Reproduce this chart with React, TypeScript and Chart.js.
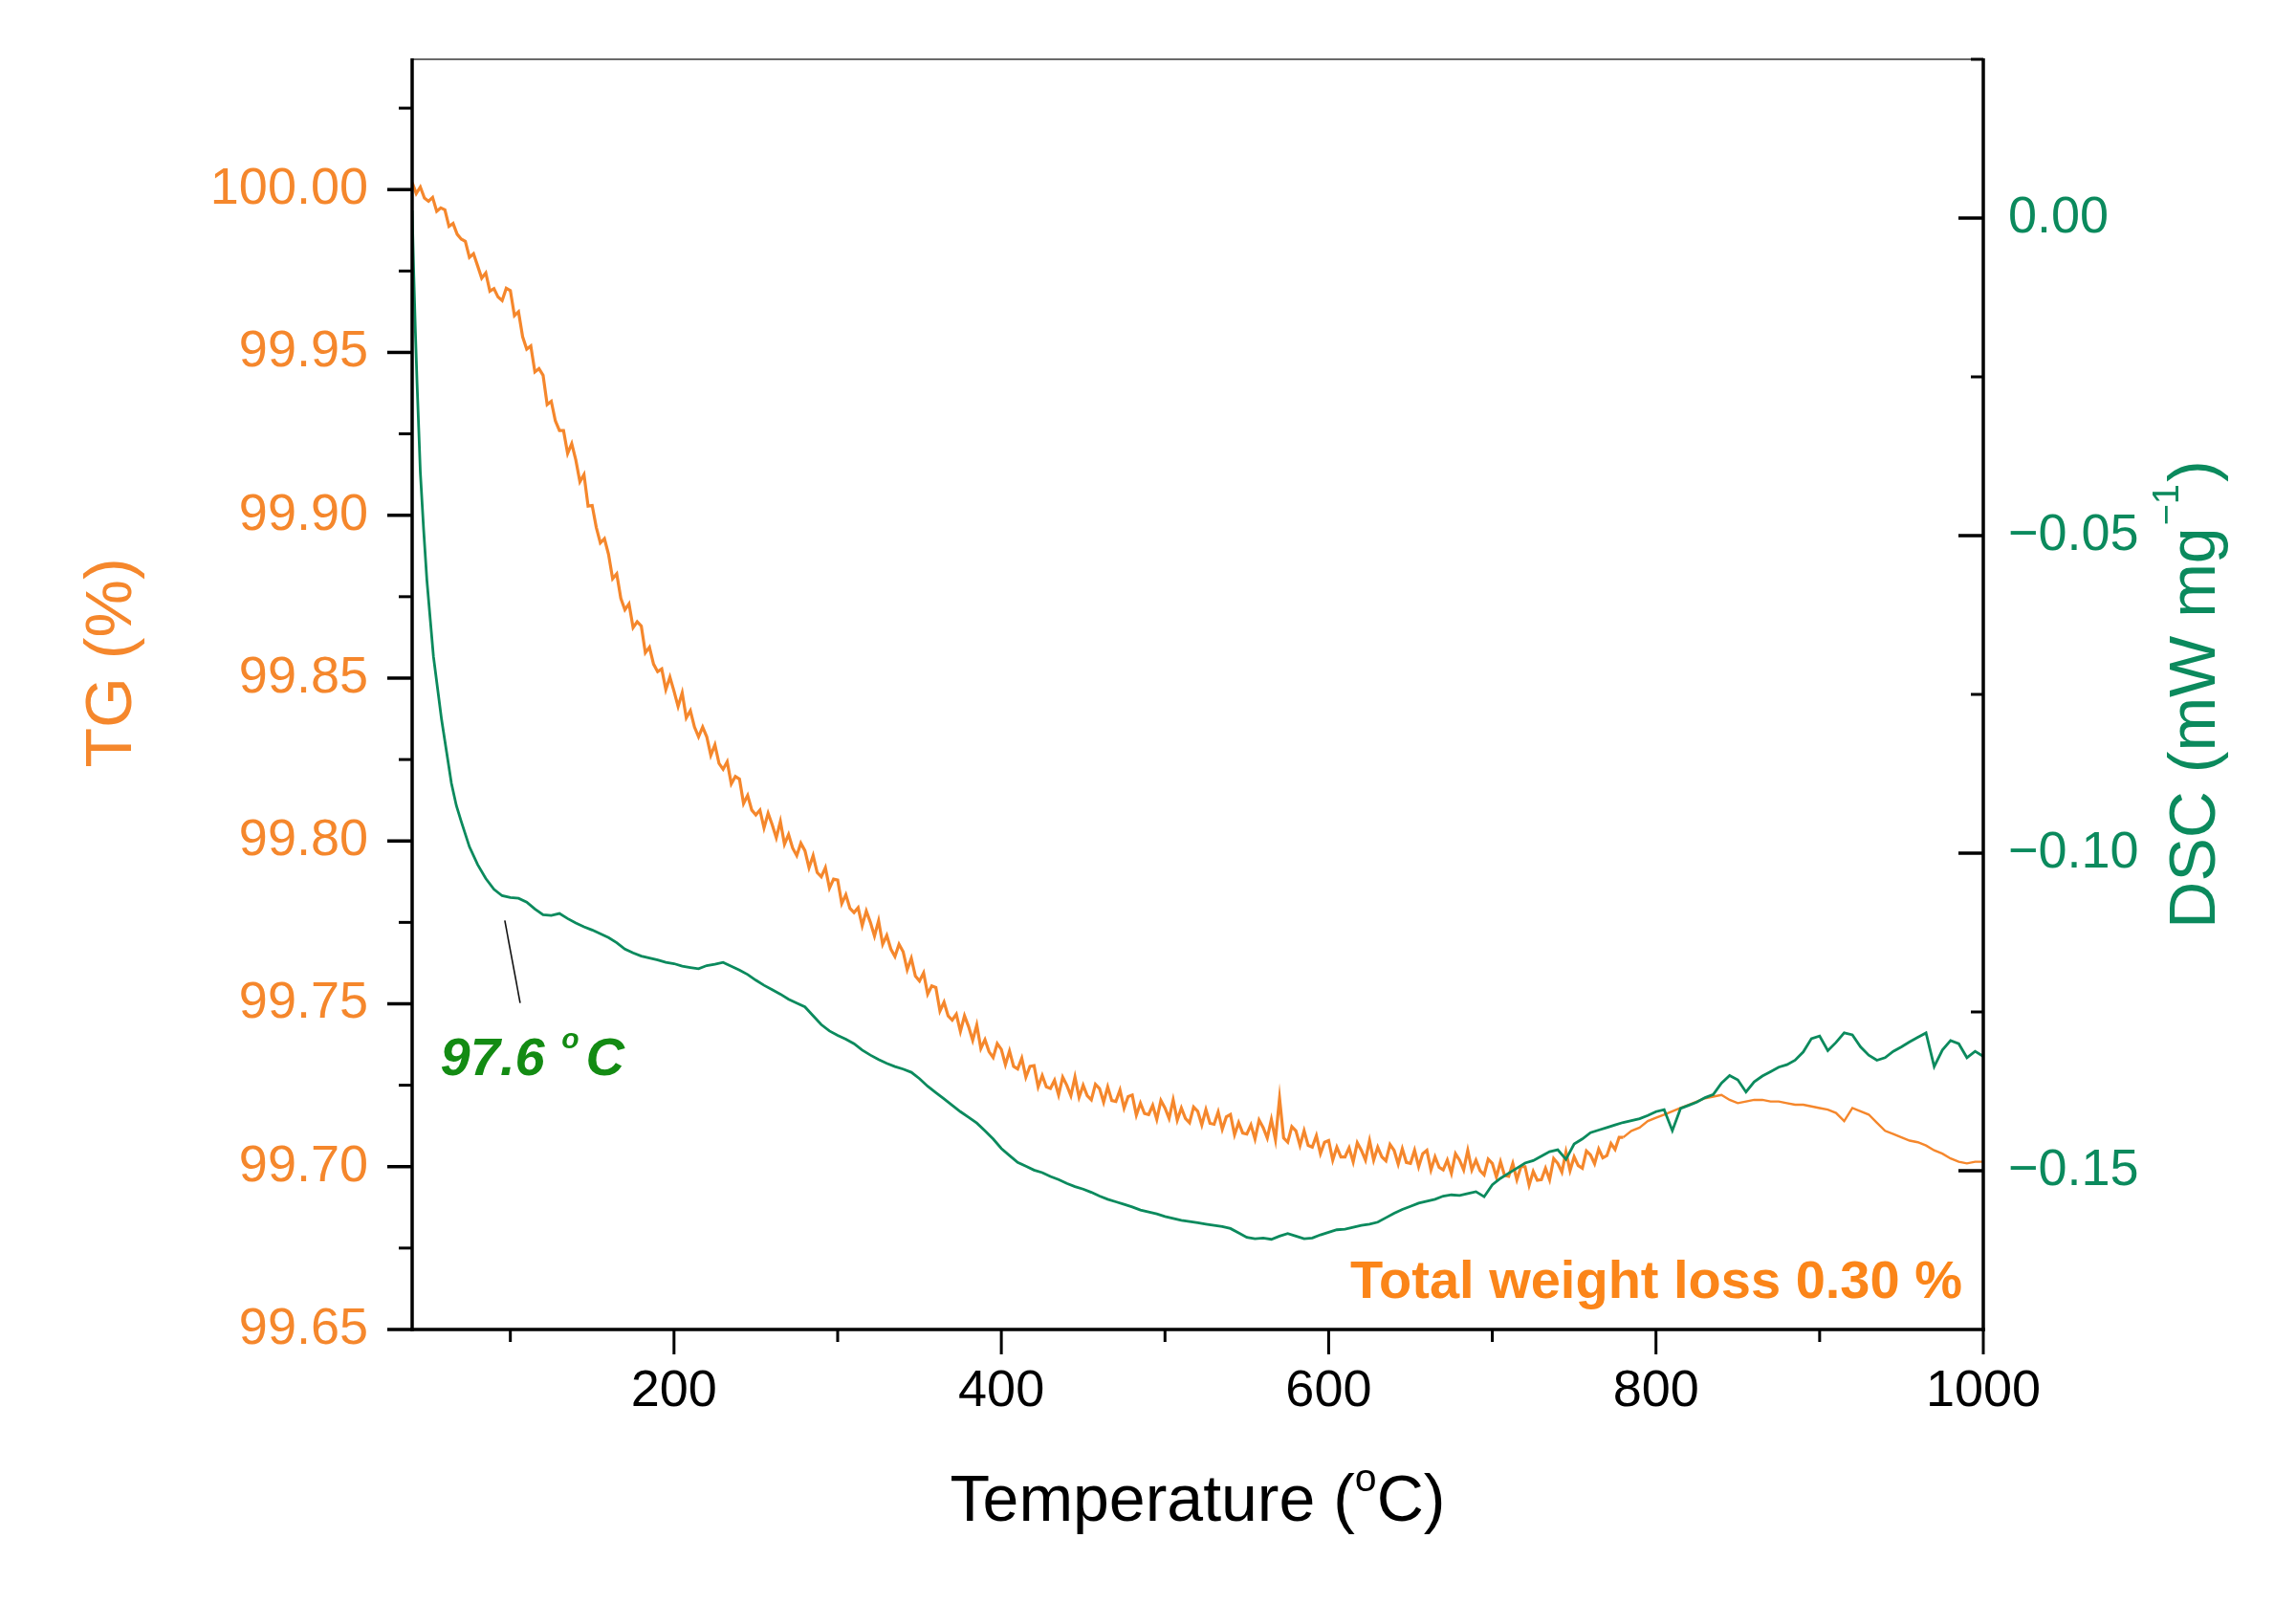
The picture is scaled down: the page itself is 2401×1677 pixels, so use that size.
import React, { useEffect, useRef } from "react";
import { Chart, registerables } from "chart.js";

Chart.register(...registerables);

// ---------- data ----------
const tgTemperature = [
  40, 42.5, 45, 47.5, 50, 52.5, 55, 57.5, 60, 62.5, 65, 67.5, 70, 72.5, 75, 77.5,
  80, 82.5, 85, 87.5, 90, 92.5, 95, 97.5, 100, 102.5, 105, 107.5, 110, 112.5, 115, 117.5,
  120, 122.5, 125, 127.5, 130, 132.5, 135, 137.5, 140, 142.5, 145, 147.5, 150, 152.5, 155, 157.5,
  160, 162.5, 165, 167.5, 170, 172.5, 175, 177.5, 180, 182.5, 185, 187.5, 190, 192.5, 195, 197.5,
  200, 202.5, 205, 207.5, 210, 212.5, 215, 217.5, 220, 222.5, 225, 227.5, 230, 232.5, 235, 237.5,
  240, 242.5, 245, 247.5, 250, 252.5, 255, 257.5, 260, 262.5, 265, 267.5, 270, 272.5, 275, 277.5,
  280, 282.5, 285, 287.5, 290, 292.5, 295, 297.5, 300, 302.5, 305, 307.5, 310, 312.5, 315, 317.5,
  320, 322.5, 325, 327.5, 330, 332.5, 335, 337.5, 340, 342.5, 345, 347.5, 350, 352.5, 355, 357.5,
  360, 362.5, 365, 367.5, 370, 372.5, 375, 377.5, 380, 382.5, 385, 387.5, 390, 392.5, 395, 397.5,
  400, 402.5, 405, 407.5, 410, 412.5, 415, 417.5, 420, 422.5, 425, 427.5, 430, 432.5, 435, 437.5,
  440, 442.5, 445, 447.5, 450, 452.5, 455, 457.5, 460, 462.5, 465, 467.5, 470, 472.5, 475, 477.5,
  480, 482.5, 485, 487.5, 490, 492.5, 495, 497.5, 500, 502.5, 505, 507.5, 510, 512.5, 515, 517.5,
  520, 522.5, 525, 527.5, 530, 532.5, 535, 537.5, 540, 542.5, 545, 547.5, 550, 552.5, 555, 557.5,
  560, 562.5, 565, 567.5, 570, 572.5, 575, 577.5, 580, 582.5, 585, 587.5, 590, 592.5, 595, 597.5,
  600, 602.5, 605, 607.5, 610, 612.5, 615, 617.5, 620, 622.5, 625, 627.5, 630, 632.5, 635, 637.5,
  640, 642.5, 645, 647.5, 650, 652.5, 655, 657.5, 660, 662.5, 665, 667.5, 670, 672.5, 675, 677.5,
  680, 682.5, 685, 687.5, 690, 692.5, 695, 697.5, 700, 702.5, 705, 707.5, 710, 712.5, 715, 717.5,
  720, 722.5, 725, 727.5, 730, 732.5, 735, 737.5, 740, 742.5, 745, 747.5, 750, 752.5, 755, 757.5,
  760, 762.5, 765, 767.5, 770, 772.5, 775, 777.5,
  780, 785, 790, 795, 800, 805, 810, 815, 820, 825,
  830, 835, 840, 845, 850, 855, 860, 865, 870, 875,
  880, 885, 890, 895, 900, 905, 910, 915, 920, 925,
  930, 935, 940, 945, 950, 955, 960, 965, 970, 975,
  980, 985, 990, 995, 1000,
];

const tgValues = [
  100.0022, 99.9988, 100.0008, 99.9974, 99.9964, 99.9976, 99.9933, 99.9944,
  99.9938, 99.9887, 99.9896, 99.9863, 99.9848, 99.9841, 99.9792, 99.9803,
  99.9766, 99.9728, 99.9744, 99.9688, 99.9696, 99.967, 99.9659, 99.9697,
  99.969, 99.9613, 99.9625, 99.9548, 99.951, 99.952, 99.944, 99.945,
  99.943, 99.934, 99.935, 99.929, 99.926, 99.926, 99.919, 99.922,
  99.917, 99.9103, 99.9125, 99.9028, 99.903, 99.8963, 99.8915, 99.8928,
  99.888, 99.8805, 99.882, 99.8745, 99.871, 99.8728, 99.8655, 99.8673,
  99.866, 99.8578, 99.8595, 99.8543, 99.852, 99.8528, 99.8465, 99.8503,
  99.846, 99.8413, 99.8455, 99.8378, 99.84, 99.835, 99.832, 99.835,
  99.832, 99.8263, 99.8295, 99.8238, 99.822, 99.8243, 99.8175, 99.8198,
  99.819, 99.8115, 99.814, 99.8095, 99.808, 99.8095, 99.804, 99.8085,
  99.805, 99.801, 99.806, 99.799, 99.802, 99.7978, 99.7955, 99.7993,
  99.797, 99.7918, 99.7955, 99.7903, 99.789, 99.7918, 99.7855, 99.7883,
  99.788, 99.7808, 99.7835, 99.7793, 99.778, 99.7795, 99.774, 99.7785,
  99.775, 99.7708, 99.7755, 99.7683, 99.771, 99.7668, 99.7645, 99.7683,
  99.766, 99.7605, 99.764, 99.7585, 99.757, 99.7595, 99.753, 99.7555,
  99.755, 99.7478, 99.7505, 99.7463, 99.745, 99.7468, 99.7415, 99.7463,
  99.743, 99.7388, 99.7435, 99.7363, 99.739, 99.7353, 99.7335, 99.7378,
  99.736, 99.7313, 99.7355, 99.7308, 99.73, 99.7333, 99.7275, 99.7308,
  99.731, 99.7245, 99.728, 99.7245, 99.724, 99.7265, 99.722, 99.7275,
  99.725, 99.7218, 99.7275, 99.7213, 99.725, 99.7218, 99.7205, 99.7253,
  99.724, 99.7198, 99.7245, 99.7203, 99.72, 99.7235, 99.718, 99.7215,
  99.722, 99.7158, 99.7195, 99.7163, 99.716, 99.7188, 99.7145, 99.7203,
  99.718, 99.7148, 99.7205, 99.7143, 99.718, 99.7148, 99.7135, 99.7183,
  99.717, 99.7128, 99.7175, 99.7133, 99.713, 99.7168, 99.7115, 99.7153,
  99.716, 99.7098, 99.7135, 99.7103, 99.71, 99.7128, 99.7085, 99.7143,
  99.712, 99.7088, 99.7145, 99.7083, 99.721, 99.7088, 99.7075, 99.7123,
  99.711, 99.7065, 99.711, 99.7065, 99.706, 99.7095, 99.704, 99.7075,
  99.708, 99.702, 99.706, 99.703, 99.703, 99.7058, 99.7015, 99.7073,
  99.705, 99.702, 99.708, 99.702, 99.706, 99.703, 99.7018, 99.7068,
  99.705, 99.7008, 99.7055, 99.7013, 99.701, 99.705, 99.7, 99.704,
  99.705, 99.699, 99.703, 99.6998, 99.699, 99.702, 99.698, 99.704,
  99.702, 99.699, 99.705, 99.699, 99.702, 99.6988, 99.6975, 99.7023,
  99.701, 99.6968, 99.7015, 99.6973, 99.697, 99.701, 99.696, 99.7,
  99.7, 99.6943, 99.6985, 99.6958, 99.696, 99.6995, 99.696, 99.7025,
  99.701, 99.6983, 99.7045, 99.6988, 99.703, 99.7003, 99.6995, 99.7048,
  99.7036, 99.7009, 99.7054, 99.7027, 99.7034, 99.7071, 99.7053, 99.709,
  99.709, 99.711, 99.712, 99.714, 99.715, 99.716, 99.717, 99.718, 99.719, 99.72,
  99.721, 99.7215, 99.722, 99.7205, 99.7195, 99.72, 99.7205, 99.7205, 99.72, 99.72,
  99.7195, 99.719, 99.719, 99.7185, 99.718, 99.7175, 99.7165, 99.714, 99.718, 99.717,
  99.716, 99.7135, 99.711, 99.71, 99.709, 99.708, 99.7075, 99.7065, 99.705, 99.704,
  99.7025, 99.7015, 99.701, 99.7015, 99.7015,
];

const dscTemperature = [
  40, 41, 42, 43, 44, 45, 47, 49, 51, 53,
  55, 58, 61, 64, 67, 70, 75, 80, 85, 90,
  95, 100,
  105, 110, 115, 120, 125, 130, 135, 140, 145, 150,
  155, 160, 165, 170, 175, 180, 185, 190, 195, 200,
  205, 210, 215, 220, 225, 230, 235, 240, 245, 250,
  255, 260, 265, 270, 275, 280, 285, 290, 295, 300,
  305, 310, 315, 320, 325, 330, 335, 340, 345, 350,
  355, 360, 365, 370, 375, 380, 385, 390, 395, 400,
  405, 410, 415, 420, 425, 430, 435, 440, 445, 450,
  455, 460, 465, 470, 475, 480, 485, 490, 495, 500,
  505, 510, 515, 520, 525, 530, 535, 540, 545, 550,
  555, 560, 565, 570, 575, 580, 585, 590, 595, 600,
  605, 610, 615, 620, 625, 630, 635, 640, 645, 650,
  655, 660, 665, 670, 675, 680, 685, 690, 695, 700,
  705, 710, 715, 720, 725, 730, 735, 740, 745, 750,
  755, 760, 765, 770, 775, 780, 785, 790, 795, 800,
  805, 810, 815, 820, 825, 830, 835, 840, 845, 850,
  855, 860, 865, 870, 875, 880, 885, 890, 895, 900,
  905, 910, 915, 920, 925, 930, 935, 940, 945, 950,
  955, 960, 965, 970, 975, 980, 985, 990, 995, 1000,
];

const dscValues = [
  0.0012, -0.009, -0.018, -0.026, -0.033, -0.04, -0.049, -0.057, -0.063, -0.069,
  -0.073, -0.079, -0.084, -0.089, -0.0925, -0.095, -0.099, -0.1018, -0.104, -0.1057,
  -0.1067, -0.107,
  -0.1071, -0.1077, -0.1088, -0.1097, -0.1098, -0.1095, -0.1103, -0.111, -0.1116, -0.1121,
  -0.1127, -0.1133, -0.1141, -0.1151, -0.1157, -0.1162, -0.1165, -0.1168, -0.1172, -0.1174,
  -0.1178, -0.118, -0.1182, -0.1177, -0.1175, -0.1172, -0.1178, -0.1184, -0.1191, -0.12,
  -0.1208, -0.1215, -0.1222, -0.123, -0.1236, -0.1242, -0.1256, -0.127, -0.128, -0.1287,
  -0.1293, -0.13, -0.131, -0.1318, -0.1325, -0.1331, -0.1336, -0.134, -0.1345, -0.1355,
  -0.1367, -0.1377, -0.1387, -0.1397, -0.1407, -0.1416, -0.1425, -0.1437, -0.145, -0.1465,
  -0.1476, -0.1487, -0.1493, -0.1499, -0.1503, -0.1509, -0.1514, -0.152, -0.1525, -0.1529,
  -0.1534, -0.154, -0.1545, -0.1549, -0.1553, -0.1557, -0.1562, -0.1565, -0.1568, -0.1572,
  -0.1575, -0.1578, -0.158, -0.1582, -0.1584, -0.1586, -0.1588, -0.1591, -0.1598, -0.1605,
  -0.1607, -0.1606, -0.1608, -0.1603, -0.1599, -0.1603, -0.1607, -0.1606, -0.1601, -0.1597,
  -0.1593, -0.1592, -0.1589, -0.1586, -0.1584, -0.1581, -0.1574, -0.1567, -0.1561, -0.1556,
  -0.1551, -0.1548, -0.1545, -0.154, -0.1538, -0.1539, -0.1536, -0.1533, -0.1541, -0.1522,
  -0.1512, -0.1504, -0.1496, -0.1488, -0.1484, -0.1477, -0.147, -0.1467, -0.1482, -0.1458,
  -0.145, -0.144, -0.1436, -0.1432, -0.1428, -0.1424, -0.1421, -0.1418, -0.1413, -0.1407,
  -0.1404, -0.1437, -0.1402, -0.1397, -0.1392, -0.1385, -0.138, -0.1362, -0.135, -0.1357,
  -0.1376, -0.136, -0.1351, -0.1344, -0.1337, -0.1333, -0.1326, -0.1313, -0.1292, -0.1288,
  -0.1311, -0.1298, -0.1283, -0.1286, -0.1305, -0.1318, -0.1326, -0.1322, -0.1312, -0.1305,
  -0.1297, -0.129, -0.1283, -0.1336, -0.131, -0.1295, -0.13, -0.1322, -0.1312, -0.132,
];

const temperatureTicks = [200, 400, 600, 800, 1000];
const temperatureMinorTicks = [100, 300, 500, 700, 900];
const tgTicks = [99.65, 99.7, 99.75, 99.8, 99.85, 99.9, 99.95, 100.0];
const tgMinorTicks = [99.675, 99.725, 99.775, 99.825, 99.875, 99.925, 99.975, 100.025];
const dscTicks = [-0.15, -0.1, -0.05, 0.0];
const dscMinorTicks = [-0.125, -0.075, -0.025, 0.025];

// annotation anchors (data units: temperature, DSC)
const peakPointer = [
  { t: 96.6, dsc: -0.1106 },
  { t: 106, dsc: -0.1236 },
];
const peakLabelAnchor = { t: 57.3, dsc: -0.135 };

// the TG signal is noisy (drawn slightly heavier) below this temperature
const tgNoisyUntil = 780;

// ---------- styles ----------
const ORANGE = "#F5872C";
const ORANGE_TEXT = "#FB8519";
const GREEN = "#0B8A5D";
const LABEL_GREEN = "#138B13";
const FONT = '"Liberation Sans", Arial, Helvetica, sans-serif';

const W = 2401;
const H = 1677;
const AREA_LEFT = 431;
const AREA_RIGHT = 2074;
const AREA_TOP = 62;
const AREA_BOTTOM = 1390;

function fmtDsc(v: number): string {
  if (Math.abs(v) < 1e-9) return "0.00";
  const s = v.toFixed(2);
  return s.replace("-", "\u2212");
}

function zeroPad(s: any) {
  s.paddingTop = 0;
  s.paddingBottom = 0;
  s.paddingLeft = 0;
  s.paddingRight = 0;
}

const decorPlugin = {
  id: "decor",
  afterDatasetsDraw(chart: any) {
    const { ctx, chartArea, scales } = chart;
    const { left, right, top, bottom } = chartArea;
    const x = scales.x;
    const y = scales.y;
    const y1 = scales.y1;
    ctx.save();

    const line = (x1: number, yy1: number, x2: number, yy2: number) => {
      ctx.beginPath();
      ctx.moveTo(x1, yy1);
      ctx.lineTo(x2, yy2);
      ctx.stroke();
    };

    // top frame (thin grey)
    ctx.strokeStyle = "#6a6a6a";
    ctx.lineWidth = 2;
    line(left, top, right, top);

    // axes
    ctx.strokeStyle = "#000";
    ctx.lineWidth = 3.5;
    line(left, top - 1, left, bottom + 1.75);
    line(left - 1.75, bottom, right + 1.75, bottom);
    line(right, top - 1, right, bottom + 1.75);

    // left ticks (outward)
    ctx.lineWidth = 3.5;
    tgTicks.forEach((v) => {
      const p = y.getPixelForValue(v);
      line(left - 26, p, left, p);
    });
    ctx.lineWidth = 3;
    tgMinorTicks.forEach((v) => {
      const p = y.getPixelForValue(v);
      line(left - 14, p, left, p);
    });

    // right ticks (inward)
    ctx.lineWidth = 3.5;
    dscTicks.forEach((v) => {
      const p = y1.getPixelForValue(v);
      line(right - 26, p, right, p);
    });
    ctx.lineWidth = 3;
    dscMinorTicks.forEach((v) => {
      const p = y1.getPixelForValue(v);
      line(right - 13, p, right, p);
    });

    // bottom ticks (outward)
    ctx.lineWidth = 3;
    temperatureTicks.forEach((v) => {
      const p = x.getPixelForValue(v);
      line(p, bottom, p, bottom + 26);
    });
    temperatureMinorTicks.forEach((v) => {
      const p = x.getPixelForValue(v);
      line(p, bottom, p, bottom + 13);
    });

    // peak pointer
    ctx.strokeStyle = "#111";
    ctx.lineWidth = 1.6;
    line(
      x.getPixelForValue(peakPointer[0].t),
      y1.getPixelForValue(peakPointer[0].dsc),
      x.getPixelForValue(peakPointer[1].t),
      y1.getPixelForValue(peakPointer[1].dsc)
    );

    // peak label "97.6 °C"
    const lx = x.getPixelForValue(peakLabelAnchor.t);
    const ly = y1.getPixelForValue(peakLabelAnchor.dsc);
    ctx.fillStyle = LABEL_GREEN;
    ctx.textAlign = "left";
    ctx.textBaseline = "alphabetic";
    ctx.font = `italic bold 56px ${FONT}`;
    const part1 = "97.6 ";
    ctx.fillText(part1, lx, ly);
    let cx = lx + ctx.measureText(part1).width + 2;
    ctx.font = `italic bold 30px ${FONT}`;
    ctx.fillText("o", cx, ly - 28);
    cx += ctx.measureText("o").width + 7;
    ctx.font = `italic bold 56px ${FONT}`;
    ctx.fillText("C", cx, ly);

    // total weight loss
    ctx.fillStyle = ORANGE_TEXT;
    ctx.font = `bold 56px ${FONT}`;
    ctx.textAlign = "right";
    ctx.fillText("Total weight loss 0.30 %", right - 22, bottom - 33);

    ctx.restore();
  },
  afterDraw(chart: any) {
    const { ctx, chartArea } = chart;
    const { left, right, top, bottom } = chartArea;
    ctx.save();
    ctx.textBaseline = "alphabetic";

    // x title: Temperature (°C)
    ctx.fillStyle = "#000";
    const big = `68px ${FONT}`;
    const small = `41px ${FONT}`;
    ctx.font = big;
    const a = "Temperature (";
    const c = "C)";
    const wa = ctx.measureText(a).width;
    const wc = ctx.measureText(c).width;
    ctx.font = small;
    const wo = ctx.measureText("o").width;
    const total = wa + wo + wc;
    const cxMid = (left + right) / 2;
    const base = 1590;
    let px = cxMid - total / 2;
    ctx.textAlign = "left";
    ctx.font = big;
    ctx.fillText(a, px, base);
    px += wa;
    ctx.font = small;
    ctx.fillText("o", px, base - 31);
    px += wo;
    ctx.font = big;
    ctx.fillText(c, px, base);

    // left title TG (%)
    ctx.save();
    ctx.translate(137, 693);
    ctx.rotate(-Math.PI / 2);
    ctx.fillStyle = ORANGE;
    ctx.font = big;
    ctx.textAlign = "center";
    ctx.fillText("TG (%)", 0, 0);
    ctx.restore();

    // right title DSC (mW mg−1)
    ctx.save();
    ctx.translate(2316, (top + bottom) / 2);
    ctx.rotate(-Math.PI / 2);
    ctx.fillStyle = GREEN;
    ctx.textAlign = "left";
    const r1 = "DSC (mW mg";
    const sup = "\u22121";
    const r3 = ")";
    ctx.font = big;
    const w1 = ctx.measureText(r1).width;
    const w3 = ctx.measureText(r3).width;
    ctx.font = `38px ${FONT}`;
    const w2 = ctx.measureText(sup).width;
    let rx = -(w1 + w2 + w3 + 4) / 2;
    ctx.font = big;
    ctx.fillText(r1, rx, 0);
    rx += w1 + 2;
    ctx.font = `38px ${FONT}`;
    ctx.fillText(sup, rx, -38);
    rx += w2 + 2;
    ctx.font = big;
    ctx.fillText(r3, rx, 0);
    ctx.restore();

    ctx.restore();
  },
};

export default function App() {
  const ref = useRef<HTMLCanvasElement | null>(null);

  useEffect(() => {
    const canvas = ref.current;
    if (!canvas) return;
    const tgData = tgTemperature.map((t, i) => ({ x: t, y: tgValues[i] }));
    const dscData = dscTemperature.map((t, i) => ({ x: t, y: dscValues[i] }));

    const chart = new Chart(canvas, {
      type: "line",
      data: {
        datasets: [
          {
            label: "DSC",
            data: dscData,
            yAxisID: "y1",
            borderColor: GREEN,
            borderWidth: 2.8,
            pointRadius: 0,
            tension: 0,
            fill: false,
            order: 0,
          },
          {
            label: "TG",
            data: tgData,
            yAxisID: "y",
            borderColor: ORANGE,
            borderWidth: 2.4,
            pointRadius: 0,
            tension: 0,
            fill: false,
            order: 1,
            segment: {
              borderWidth: (c: any) => (c.p0.parsed.x < tgNoisyUntil ? 3.2 : 2.4),
            },
          },
        ],
      },
      options: {
        animation: false,
        responsive: false,
        maintainAspectRatio: false,
        events: [],
        layout: { padding: { top: AREA_TOP, left: 0, right: 0, bottom: 0 } },
        plugins: {
          legend: { display: false },
          tooltip: { enabled: false },
          title: { display: false },
        },
        scales: {
          x: {
            type: "linear",
            position: "bottom",
            min: 40,
            max: 1000,
            afterBuildTicks: (s: any) => {
              s.ticks = temperatureTicks.map((v) => ({ value: v }));
            },
            afterFit: (s: any) => {
              s.height = H - AREA_BOTTOM;
              zeroPad(s);
            },
            grid: { display: false, drawTicks: false },
            border: { display: false },
            ticks: {
              color: "#000",
              font: { family: FONT, size: 54 },
              padding: 33,
              maxRotation: 0,
              autoSkip: false,
              callback: (v: any) => String(v),
            },
          },
          y: {
            type: "linear",
            position: "left",
            min: 99.65,
            max: 100.04,
            afterBuildTicks: (s: any) => {
              s.ticks = tgTicks.map((v) => ({ value: v }));
            },
            afterFit: (s: any) => {
              s.width = AREA_LEFT;
              zeroPad(s);
            },
            grid: { display: false, drawTicks: false },
            border: { display: false },
            ticks: {
              color: ORANGE,
              font: { family: FONT, size: 54 },
              padding: 46,
              autoSkip: false,
              callback: (v: any) => Number(v).toFixed(2),
            },
          },
          y1: {
            type: "linear",
            position: "right",
            min: -0.175,
            max: 0.025,
            afterBuildTicks: (s: any) => {
              s.ticks = dscTicks.map((v) => ({ value: v }));
            },
            afterFit: (s: any) => {
              s.width = W - AREA_RIGHT;
              zeroPad(s);
            },
            grid: { display: false, drawTicks: false },
            border: { display: false },
            ticks: {
              color: GREEN,
              font: { family: FONT, size: 54 },
              padding: 26,
              autoSkip: false,
              callback: (v: any) => fmtDsc(Number(v)),
            },
          },
        },
      },
      plugins: [decorPlugin],
    } as any);

    return () => {
      chart.destroy();
    };
  }, []);

  return (
    <div
      style={{
        position: "absolute",
        left: 0,
        top: 0,
        width: W,
        height: H,
        background: "#ffffff",
        overflow: "hidden",
      }}
    >
      <canvas ref={ref} width={W} height={H} style={{ display: "block", width: W, height: H }} />
    </div>
  );
}
